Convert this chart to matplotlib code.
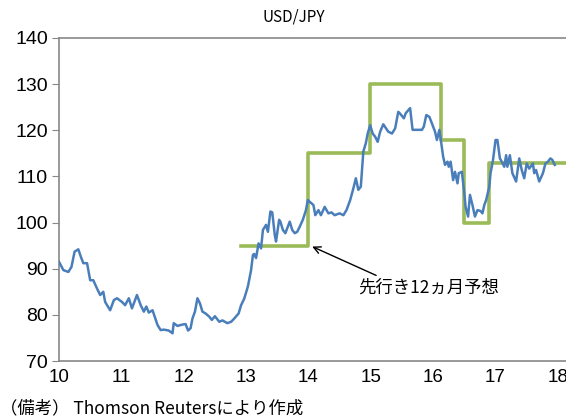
import matplotlib
matplotlib.use("Agg")
import matplotlib.pyplot as plt
from matplotlib import font_manager

# font for numbers: narrow if available
names = {f.name for f in font_manager.fontManager.ttflist}
num_font = "Liberation Sans Narrow" if "Liberation Sans Narrow" in names else "Liberation Sans"
jp_font = ["Noto Sans CJK JP", "DejaVu Sans"]

# USD/JPY, x in years (10 = 2010)
years = [10.00, 10.07, 10.15, 10.20, 10.25, 10.31, 10.35, 10.39, 10.45, 10.50,
         10.55, 10.61, 10.66, 10.71, 10.74, 10.82, 10.88, 10.93, 11.01, 11.06,
         11.12, 11.17, 11.25, 11.31, 11.36, 11.40, 11.44, 11.50, 11.58, 11.63,
         11.68, 11.76, 11.82, 11.84, 11.90, 11.98, 12.03, 12.07, 12.11, 12.14,
         12.18, 12.22, 12.26, 12.30, 12.35, 12.41, 12.45, 12.50, 12.57, 12.62,
         12.70, 12.76, 12.81, 12.88, 12.92, 12.97, 13.03, 13.08, 13.11, 13.13,
         13.16, 13.20, 13.24, 13.27, 13.32, 13.35, 13.39, 13.42, 13.46, 13.48,
         13.53, 13.55, 13.59, 13.63, 13.67, 13.70, 13.74, 13.78, 13.82, 13.86,
         13.91, 13.96, 13.99, 14.02, 14.08, 14.11, 14.16, 14.20, 14.26, 14.32,
         14.37, 14.42, 14.50, 14.56, 14.61, 14.67, 14.72, 14.76, 14.80, 14.84,
         14.88, 14.92, 14.95, 14.99, 15.03, 15.07, 15.11, 15.15, 15.20, 15.28,
         15.34, 15.39, 15.44, 15.47, 15.53, 15.56, 15.63, 15.67, 15.74, 15.82,
         15.85, 15.89, 15.94, 15.98, 16.03, 16.06, 16.10, 16.13, 16.16, 16.19,
         16.23, 16.25, 16.28, 16.32, 16.35, 16.39, 16.41, 16.46, 16.50, 16.52,
         16.56, 16.59, 16.63, 16.67, 16.71, 16.76, 16.79, 16.82, 16.85, 16.90,
         16.92, 16.96, 17.00, 17.03, 17.07, 17.10, 17.14, 17.17, 17.19, 17.23,
         17.27, 17.33, 17.38, 17.42, 17.46, 17.50, 17.54, 17.60, 17.62, 17.65,
         17.70, 17.76, 17.80, 17.84, 17.88, 17.91, 17.95]
usdjpy = [91.5, 89.7, 89.3, 90.4, 93.7, 94.2, 92.6, 91.2, 91.2, 87.5,
          87.5, 85.7, 84.3, 85.0, 82.8, 81.0, 83.2, 83.6, 82.8, 82.1,
          83.6, 81.4, 84.3, 82.1, 80.7, 81.8, 80.5, 81.0, 77.8, 76.7,
          76.8, 76.6, 76.0, 78.2, 77.6, 77.9, 78.0, 76.6, 77.1, 79.2,
          80.7, 83.6, 82.5, 80.7, 80.3, 79.6, 78.9, 79.7, 78.5, 78.8,
          78.2, 78.5, 79.2, 80.3, 82.1, 83.5, 86.2, 89.7, 93.0, 93.2,
          92.3, 95.5, 94.4, 98.4, 99.5, 98.0, 102.4, 102.2, 97.3, 95.9,
          100.6, 100.2, 98.4, 97.7, 99.1, 100.2, 98.4, 97.7, 98.0, 99.1,
          100.6, 102.7, 104.9, 104.5, 103.8, 101.6, 102.7, 101.6, 103.4, 102.0,
          102.2, 101.6, 102.0, 101.6, 102.7, 104.9, 107.4, 109.6, 107.1, 107.8,
          115.4, 117.2, 119.3, 121.1, 119.3, 118.6, 117.5, 119.7, 121.3, 119.7,
          119.3, 120.4, 124.0, 123.6, 122.6, 123.7, 124.8, 120.1, 120.1, 120.1,
          120.8, 123.3, 122.9, 121.5, 119.7, 117.9, 120.1, 117.2, 114.3, 112.5,
          113.2, 112.1, 113.2, 109.2, 111.0, 108.5, 110.7, 111.0, 106.3, 103.4,
          101.3, 106.0, 103.8, 101.3, 102.7, 102.5, 102.0, 103.8, 104.9, 107.8,
          110.7, 113.6, 117.9, 117.9, 113.9, 113.2, 112.1, 114.6, 112.1, 114.6,
          110.7, 108.9, 113.9, 111.4, 109.6, 112.8, 111.7, 112.8, 110.7, 111.4,
          108.9, 110.7, 112.8, 113.2, 113.9, 113.6, 112.5]

# 12-month-ahead forecast (step line)
fc_years = [12.92, 14.00, 14.98, 16.13, 16.50, 16.90, 18.13]
fc_values = [95, 115, 130, 118, 100, 113, 113]

xticks = [10, 11, 12, 13, 14, 15, 16, 17, 18]
yticks = [70, 80, 90, 100, 110, 120, 130, 140]

fig = plt.figure(figsize=(5.66, 4.19), dpi=100)
ax = fig.add_axes([59 / 566, 1 - 361 / 419, 1 - 59 / 566, (361 - 38) / 419])

ax.step(fc_years, fc_values, where="post", color="#9BBB59", lw=2.6, zorder=2)
ax.plot(years, usdjpy, color="#4A7EBB", lw=1.8, zorder=3)

ax.set_xlim(10, 18.13)
ax.set_ylim(70, 140)
ax.set_xticks(xticks)
ax.set_yticks(yticks)
ax.set_xticklabels([str(t) for t in xticks], fontfamily=num_font, fontsize=13.5)
ax.set_yticklabels([str(t) for t in yticks], fontfamily=num_font, fontsize=14)
ax.tick_params(axis="x", length=0, pad=6)
ax.tick_params(axis="y", length=5, color="#888888", pad=3)

for side in ["left", "top", "bottom"]:
    ax.spines[side].set_color("#888888")
    ax.spines[side].set_linewidth(1.2)
ax.spines["right"].set_visible(False)

ax.annotate("先行き12ヵ月予想", xy=(14.06, 94.8), xytext=(14.80, 86.0),
            fontsize=12.5, family=jp_font, va="center", ha="left",
            arrowprops=dict(arrowstyle="->", color="black", lw=1,
                            shrinkA=0, shrinkB=0, relpos=(0.17, 1.0)))

fig.text(294 / 566, 1 - 17 / 419, "USD/JPY", ha="center", va="center",
         fontsize=11, family=jp_font)
fig.text(0.0, 1 - 408 / 419, "（備考） Thomson Reutersにより作成", ha="left",
         va="center", fontsize=12.5, family=jp_font)

fig.savefig("out.png", dpi=100)
